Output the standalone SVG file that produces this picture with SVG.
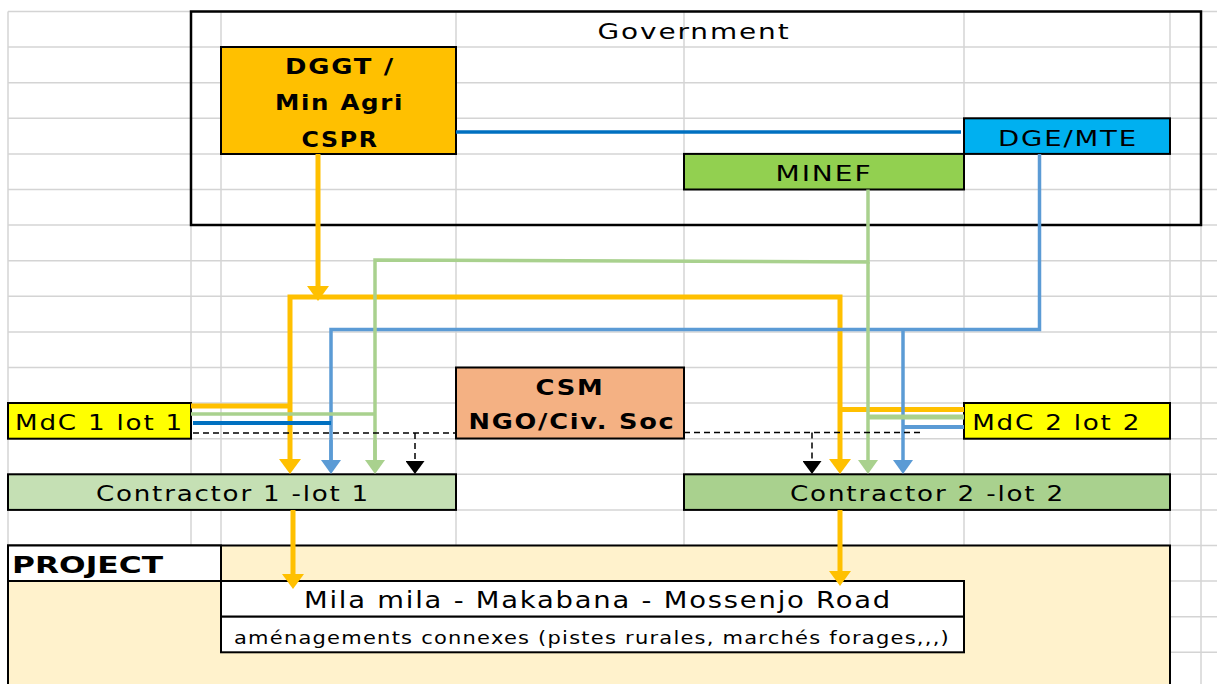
<svg xmlns="http://www.w3.org/2000/svg" width="1217" height="684" viewBox="0 0 1217 684">
<style>
.grid line{stroke:#D4D4D4;stroke-width:1.5}
.box{stroke:#000;stroke-width:2}
.t{font-family:"DejaVu Sans","Liberation Sans",sans-serif;font-size:22px;fill:#000;text-anchor:middle;letter-spacing:1.5px}
.b{font-weight:bold}
.or{fill:none;stroke:#FFC000;stroke-width:5}
.bl{fill:none;stroke:#5B9BD5;stroke-width:3.5}
.db{fill:none;stroke:#0070C0;stroke-width:3.5}
.gr{fill:none;stroke:#A9D18E;stroke-width:3.5}
.da{fill:none;stroke:#000;stroke-width:1.5;stroke-dasharray:6 4}
</style>
<defs>
<marker id="aO" viewBox="0 0 15 22" markerWidth="15" markerHeight="22" refX="0" refY="11" orient="auto-start-reverse" markerUnits="userSpaceOnUse"><path d="M0,0 L15,11 L0,22 z" fill="#FFC000"/></marker>
<marker id="aB" viewBox="0 0 14 20" markerWidth="14" markerHeight="20" refX="0" refY="10" orient="auto-start-reverse" markerUnits="userSpaceOnUse"><path d="M0,0 L14,10 L0,20 z" fill="#5B9BD5"/></marker>
<marker id="aG" viewBox="0 0 14 20" markerWidth="14" markerHeight="20" refX="0" refY="10" orient="auto-start-reverse" markerUnits="userSpaceOnUse"><path d="M0,0 L14,10 L0,20 z" fill="#A9D18E"/></marker>
<marker id="aK" viewBox="0 0 13 19" markerWidth="13" markerHeight="19" refX="0" refY="9.5" orient="auto" markerUnits="userSpaceOnUse"><path d="M0,0 L13,9.5 L0,19 z" fill="#000"/></marker>
</defs>
<rect width="1217" height="684" fill="#fff"/>
<g class="grid">
<line x1="8" y1="11.5" x2="1217" y2="11.5"/><line x1="8" y1="47" x2="1217" y2="47"/><line x1="8" y1="82.7" x2="1217" y2="82.7"/><line x1="8" y1="118.3" x2="1217" y2="118.3"/><line x1="8" y1="153.9" x2="1217" y2="153.9"/><line x1="8" y1="189.5" x2="1217" y2="189.5"/><line x1="8" y1="225" x2="1217" y2="225"/><line x1="8" y1="260.7" x2="1217" y2="260.7"/><line x1="8" y1="296.3" x2="1217" y2="296.3"/><line x1="8" y1="331.9" x2="1217" y2="331.9"/><line x1="8" y1="367.5" x2="1217" y2="367.5"/><line x1="8" y1="403" x2="1217" y2="403"/><line x1="8" y1="438.7" x2="1217" y2="438.7"/><line x1="8" y1="474.3" x2="1217" y2="474.3"/><line x1="8" y1="509.9" x2="1217" y2="509.9"/><line x1="8" y1="545.5" x2="1217" y2="545.5"/><line x1="8" y1="581" x2="1217" y2="581"/><line x1="8" y1="616.7" x2="1217" y2="616.7"/><line x1="8" y1="652.3" x2="1217" y2="652.3"/>
<line x1="8" y1="11.5" x2="8" y2="684"/><line x1="191" y1="11.5" x2="191" y2="684"/><line x1="221" y1="11.5" x2="221" y2="684"/><line x1="456" y1="11.5" x2="456" y2="684"/><line x1="684" y1="11.5" x2="684" y2="684"/><line x1="964" y1="11.5" x2="964" y2="684"/><line x1="1170" y1="11.5" x2="1170" y2="684"/><line x1="1201" y1="11.5" x2="1201" y2="684"/>
</g>
<g id="government">
<rect x="191" y="11.5" width="1010" height="213.5" fill="none" stroke="#000" stroke-width="2.5"/>
<text class="t" x="694" y="39" textLength="193" lengthAdjust="spacingAndGlyphs">Government</text>
</g>
<g id="project">
<rect class="box" x="8" y="545.5" width="1162" height="150" fill="#FFF2CC"/>
<rect class="box" x="8" y="545.5" width="213" height="35.5" fill="#fff"/>
<text class="t b" x="12" y="573" style="text-anchor:start;font-size:23px;letter-spacing:0" textLength="151" lengthAdjust="spacingAndGlyphs">PROJECT</text>
</g>
<g id="dggt">
<rect class="box" x="221" y="47" width="235" height="107" fill="#FFC000"/>
<text class="t b" x="340" y="74" textLength="110" lengthAdjust="spacingAndGlyphs">DGGT /</text>
<text class="t b" x="339.5" y="110" textLength="129" lengthAdjust="spacingAndGlyphs">Min Agri</text>
<text class="t b" x="340" y="146.5" textLength="77" lengthAdjust="spacingAndGlyphs">CSPR</text>
</g>
<g id="dge">
<rect class="box" x="964" y="118.3" width="206" height="35.6" fill="#00B0F0"/>
<text class="t" x="1068" y="145.5" textLength="140" lengthAdjust="spacingAndGlyphs">DGE/MTE</text>
</g>
<g id="minef">
<rect class="box" x="684" y="153.9" width="280" height="35.6" fill="#92D050"/>
<text class="t" x="824" y="180.5" textLength="97" lengthAdjust="spacingAndGlyphs">MINEF</text>
</g>
<g id="csm">
<rect class="box" x="456" y="367.5" width="228" height="71" fill="#F4B183"/>
<text class="t b" x="570" y="395" textLength="69" lengthAdjust="spacingAndGlyphs">CSM</text>
<text class="t b" x="572" y="429" textLength="207" lengthAdjust="spacingAndGlyphs">NGO/Civ. Soc</text>
</g>
<g id="mdc1">
<rect class="box" x="8" y="403" width="183" height="35.7" fill="#FFFF00"/>
<text class="t" x="99.5" y="429.5" textLength="169" lengthAdjust="spacingAndGlyphs">MdC 1 lot 1</text>
</g>
<g id="mdc2">
<rect class="box" x="964" y="403" width="206" height="35.7" fill="#FFFF00"/>
<text class="t" x="1056.7" y="429.5" textLength="169" lengthAdjust="spacingAndGlyphs">MdC 2 lot 2</text>
</g>
<g id="contractor1">
<rect class="box" x="8" y="474.3" width="448" height="35.6" fill="#C5E0B4"/>
<text class="t" x="233" y="500.7" textLength="274" lengthAdjust="spacingAndGlyphs">Contractor 1 -lot 1</text>
</g>
<g id="contractor2">
<rect class="box" x="684" y="474.3" width="486" height="35.6" fill="#A9D18E"/>
<text class="t" x="927.5" y="500.7" textLength="275" lengthAdjust="spacingAndGlyphs">Contractor 2 -lot 2</text>
</g>
<g id="road">
<rect class="box" x="221" y="581" width="743" height="35.7" fill="#fff"/>
<text class="t" x="598" y="607.5" style="font-size:23px" textLength="588" lengthAdjust="spacingAndGlyphs">Mila mila - Makabana - Mossenjo Road</text>
</g>
<g id="amenagements">
<rect class="box" x="221" y="616.7" width="743" height="35.6" fill="#fff"/>
<text class="t" x="234" y="644" style="text-anchor:start;font-size:17px;letter-spacing:1px" textLength="716" lengthAdjust="spacingAndGlyphs">aménagements connexes (pistes rurales, marchés forages,,,)</text>
</g>
<g id="connectors">
<path class="db" d="M456,132 H961"/>
<path class="or" d="M318,154 V286" marker-end="url(#aO)"/>
<path class="or" d="M290,459 V297 H840 V459" marker-start="url(#aO)" marker-end="url(#aO)"/>
<path class="or" d="M191,406 H290"/>
<path class="or" d="M964,409.5 H840"/>
<path class="bl" d="M331,460 V329.5 H1039.5 V154"/>
<path class="bl" d="M903,329.5 V460" marker-end="url(#aB)"/>
<path class="gr" d="M375,460 V260 L868,262 V189.5"/>
<path class="gr" d="M868,262 V460" marker-end="url(#aG)"/>
<path class="gr" d="M375,440 V460" marker-end="url(#aG)"/>
<path class="bl" d="M331,440 V460" marker-end="url(#aB)"/>
<path class="gr" d="M191,414 H375"/>
<path class="gr" d="M964,417 H868" style="stroke-width:5"/>
<path class="db" d="M193,423 H331" style="stroke-width:4"/>
<path class="bl" d="M964,427 H903" style="stroke-width:4"/>
<path class="da" d="M193,433 H456"/>
<path class="da" d="M415,433 V461" marker-end="url(#aK)"/>
<path class="da" d="M684,432.5 H922"/>
<path class="da" d="M812,432.5 V461" marker-end="url(#aK)"/>
<path class="or" d="M293,510 V574" marker-end="url(#aO)"/>
<path class="or" d="M840,510 V571" marker-end="url(#aO)"/>
</g>
</svg>
